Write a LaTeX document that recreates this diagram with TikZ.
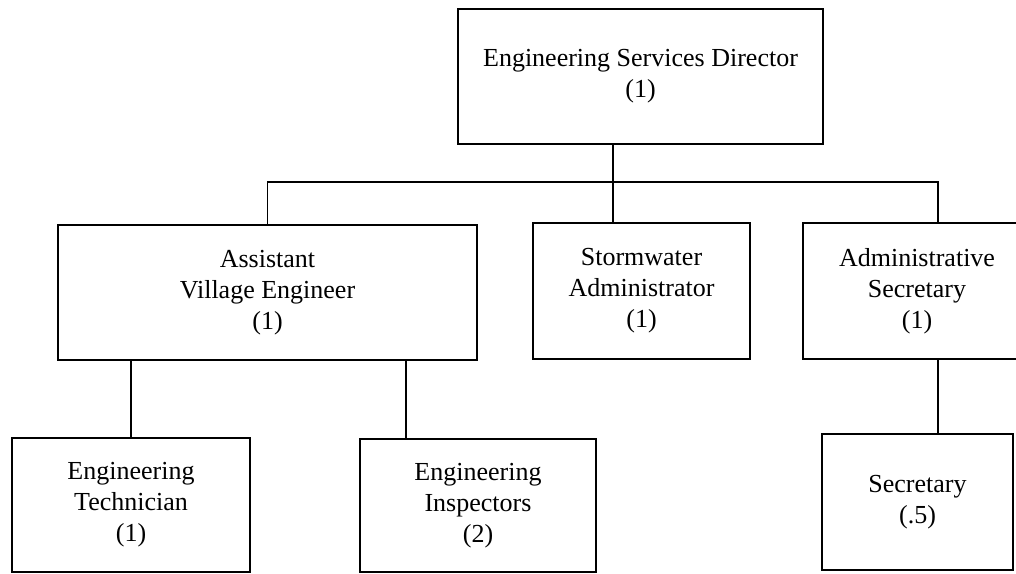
\documentclass[tikz,border=0pt]{standalone}
\usepackage{fontspec}
\setmainfont{Liberation Serif}
\usepackage{tikz}

\begin{document}
\begin{tikzpicture}[x=0.5pt,y=-0.5pt]

      \tikzstyle{every node}=[draw,rectangle,line width=0.9pt,inner sep=0pt,
                            align=center,font=\fontsize{13}{15.5}\selectfont]

      %\tikzstyle{every label}=[distance=5mm]

      \useasboundingbox (0,0) rectangle (1016,573);

      \node (dir) at (640.5,76.5) [minimum width=182.5pt,minimum height=67.5pt]
          {Engineering Services Director\\(1)};
      \node (asst) at (267.5,292.5) [minimum width=209.5pt,minimum height=67.5pt]
          {Assistant\\Village Engineer\\(1)};
      \node (storm) at (641.5,291) [minimum width=108.5pt,minimum height=68pt]
          {Stormwater\\Administrator\\(1)};
      \node (admin) at (917,291) [minimum width=114pt,minimum height=68pt]
          {Administrative\\Secretary\\(1)};
      \node (tech) at (131,505) [minimum width=119pt,minimum height=67pt]
          {Engineering\\Technician\\(1)};
      \node (insp) at (478,505.5) [minimum width=118pt,minimum height=66.5pt]
          {Engineering\\Inspectors\\(2)};
      \node (sec) at (917.5,502) [minimum width=95.5pt,minimum height=68pt]
          {Secretary\\(.5)};

      \coordinate (bar) at (613,182);
      \coordinate (adm) at (938,182);

      \draw[line width=0.9pt] (dir.south -| bar) -- (bar);
      \draw[line width=0.9pt] (asst.north) |- (bar) -- (adm) -- (admin.north -| adm);
      \draw[line width=0.9pt] (bar) -- (storm.north -| bar);
      \draw[line width=0.9pt] (admin.south -| adm) -- (sec.north -| adm);
      \draw[line width=0.9pt] (tech.north) -- (asst.south -| tech.north);
      \draw[line width=0.9pt] ([xshift=-36pt]insp.north) -- ([xshift=-36pt]insp.north |- asst.south);

    \end{tikzpicture}
\end{document}
